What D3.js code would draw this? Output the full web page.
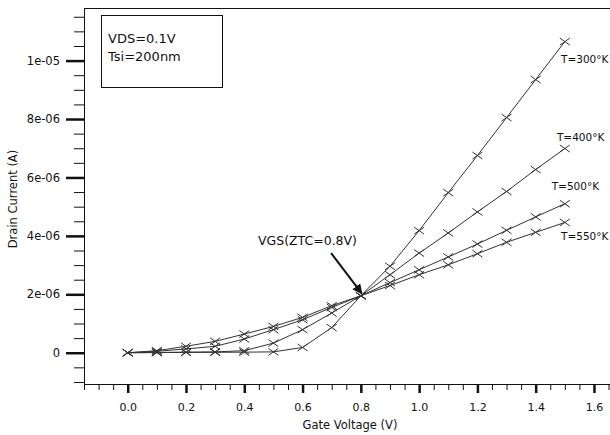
<!DOCTYPE html>
<html>
<head>
<meta charset="utf-8">
<script src="https://cdn.jsdelivr.net/npm/d3@7"></script>
<style>
  body { margin: 0; background: #fff; }
  text { font-family: "DejaVu Sans", sans-serif; fill: #111; }
</style>
</head>
<body>
<div id="chart"></div>
<script>
// gate voltage steps (V)
const vgs = [0, 0.1, 0.2, 0.3, 0.4, 0.5, 0.6, 0.7, 0.8, 0.9, 1.0, 1.1, 1.2, 1.3, 1.4, 1.5]

// drain current in microamps
const id300 = [0, 0.005, 0.01, 0.015, 0.02, 0.03, 0.18, 0.86, 1.95, 2.96, 4.18, 5.48, 6.75, 8.05, 9.35, 10.65]
const id400 = [0, 0.01, 0.02, 0.03, 0.07, 0.33, 0.79, 1.36, 1.95, 2.67, 3.41, 4.1, 4.82, 5.52, 6.27, 6.99]
const id500 = [0, 0.05, 0.13, 0.22, 0.47, 0.79, 1.13, 1.55, 1.95, 2.4, 2.84, 3.28, 3.72, 4.19, 4.65, 5.1]
const id550 = [0, 0.07, 0.22, 0.39, 0.64, 0.9, 1.21, 1.61, 1.95, 2.3, 2.67, 3.01, 3.39, 3.78, 4.12, 4.46]

const seriesNames = ["T=300°K", "T=400°K", "T=500°K", "T=550°K"]
const seriesValues = [id300, id400, id500, id550]
// where each name sits: [gate voltage, current in uA]
const labelPos = [[1.487, 9.91], [1.473, 7.26], [1.455, 5.57], [1.487, 3.86]]

const xTicks = [0, 0.2, 0.4, 0.6, 0.8, 1, 1.2, 1.4, 1.6]
const yTicks = [0, 2e-6, 4e-6, 6e-6, 8e-6, 1e-5]
const yTickLabels = ["0", "2e-06", "4e-06", "6e-06", "8e-06", "1e-05"]

const infoLines = ["VDS=0.1V", "Tsi=200nm"]
const ztcText = "VGS(ZTC=0.8V)"

const width = 610
const height = 435
const margin = ({ top: 8, right: 0, bottom: 51, left: 84 })

const x = d3.scaleLinear()
    .domain([-0.15, 1.655])
    .range([margin.left, width - margin.right])

const y = d3.scaleLinear()
    .domain([-1.07e-6, 1.18e-5])
    .range([height - margin.bottom, margin.top])

const svg = d3.select("#chart")
    .append("svg")
    .attr("width", width)
    .attr("height", height)

// minor ticks every 0.05 V / 0.5 uA
const xMinor = d3.range(-0.15, 1.66, 0.05).map(v => +v.toFixed(2))
const yMinor = d3.range(-1e-6, 1.16e-5, 5e-7).map(v => +v.toExponential(3))

svg.append("g")
    .attr("transform", `translate(0,${height - margin.bottom})`)
    .call(d3.axisBottom(x).tickValues(xMinor).tickSize(6).tickSizeOuter(0).tickFormat(""))
    .call(g => g.selectAll("line,path").attr("stroke", "#111"))

svg.append("g")
    .attr("transform", `translate(0,${height - margin.bottom})`)
    .call(d3.axisBottom(x).tickValues(xTicks).tickSize(9).tickSizeOuter(0).tickPadding(10))
    .call(g => g.select(".domain").remove())
    .call(g => g.selectAll("line").attr("stroke", "#111").attr("stroke-width", 2.5))
    .call(g => g.selectAll("text").attr("font-size", 11).attr("font-family", null).attr("fill", "#1c1c30"))

svg.append("g")
    .attr("transform", `translate(${margin.left},0)`)
    .call(d3.axisLeft(y).tickValues(yMinor).tickSize(10).tickSizeOuter(0).tickFormat(""))
    .call(g => g.selectAll("line,path").attr("stroke", "#111"))

svg.append("g")
    .attr("transform", `translate(${margin.left},0)`)
    .call(d3.axisLeft(y).tickValues(yTicks).tickSize(18).tickSizeOuter(0).tickPadding(6)
        .tickFormat((d, i) => yTickLabels[i]))
    .call(g => g.select(".domain").remove())
    .call(g => g.selectAll("line").attr("stroke", "#111").attr("stroke-width", 2.5))
    .call(g => g.selectAll("text").attr("font-size", 11.5).attr("font-family", null).attr("fill", "#1c1c30"))

// top frame line
svg.append("line")
    .attr("x1", margin.left).attr("x2", width)
    .attr("y1", margin.top + 0.5).attr("y2", margin.top + 0.5)
    .attr("stroke", "#111")

svg.append("text")
    .attr("x", 350).attr("y", 429)
    .attr("text-anchor", "middle")
    .attr("font-size", 11.5)
    .text("Gate Voltage (V)")

svg.append("text")
    .attr("transform", "translate(17,199) rotate(-90)")
    .attr("text-anchor", "middle")
    .attr("font-size", 11.5)
    .text("Drain Current (A)")

// curves
const line = d3.line()
    .x((d, i) => x(vgs[i]))
    .y(d => y(d * 1e-6))

const series = svg.append("g")
    .selectAll("g")
    .data(seriesValues)
    .join("g")

series.append("path")
    .attr("fill", "none")
    .attr("stroke", "#333")
    .attr("stroke-width", 1)
    .attr("d", line)

series.append("g")
    .selectAll("path")
    .data(d => d)
    .join("path")
    .attr("fill", "none")
    .attr("stroke", "#333")
    .attr("stroke-width", 1)
    .attr("d", (d, i) => {
        const cx = x(vgs[i]), cy = y(d * 1e-6)
        return `M${cx - 5},${cy - 3.5}L${cx + 5},${cy + 3.5}M${cx - 5},${cy + 3.5}L${cx + 5},${cy - 3.5}`
    })

svg.append("g")
    .attr("font-size", 10.5)
    .selectAll("text")
    .data(seriesNames)
    .join("text")
    .attr("x", (d, i) => x(labelPos[i][0]))
    .attr("y", (d, i) => y(labelPos[i][1] * 1e-6))
    .text(d => d)

// ZTC annotation
svg.append("defs")
    .append("marker")
    .attr("id", "head")
    .attr("viewBox", "0 0 10 10")
    .attr("refX", 9).attr("refY", 5)
    .attr("markerWidth", 5).attr("markerHeight", 5)
    .attr("orient", "auto")
    .append("path")
    .attr("d", "M0,0L10,5L0,10z")
    .attr("fill", "#111")

svg.append("line")
    .attr("x1", x(0.698)).attr("y1", y(3.41e-6))
    .attr("x2", x(0.803)).attr("y2", y(2.03e-6))
    .attr("stroke", "#111")
    .attr("stroke-width", 2)
    .attr("marker-end", "url(#head)")

svg.append("text")
    .attr("x", x(0.447))
    .attr("y", y(3.69e-6))
    .attr("font-size", 12.5)
    .text(ztcText)

// info box
svg.append("rect")
    .attr("x", 101.5).attr("y", 15.5)
    .attr("width", 121).attr("height", 72)
    .attr("fill", "white")
    .attr("stroke", "#111")

svg.append("g")
    .attr("font-size", 13)
    .selectAll("text")
    .data(infoLines)
    .join("text")
    .attr("x", 108)
    .attr("y", (d, i) => 43 + i * 18)
    .text(d => d)
</script>
</body>
</html>
